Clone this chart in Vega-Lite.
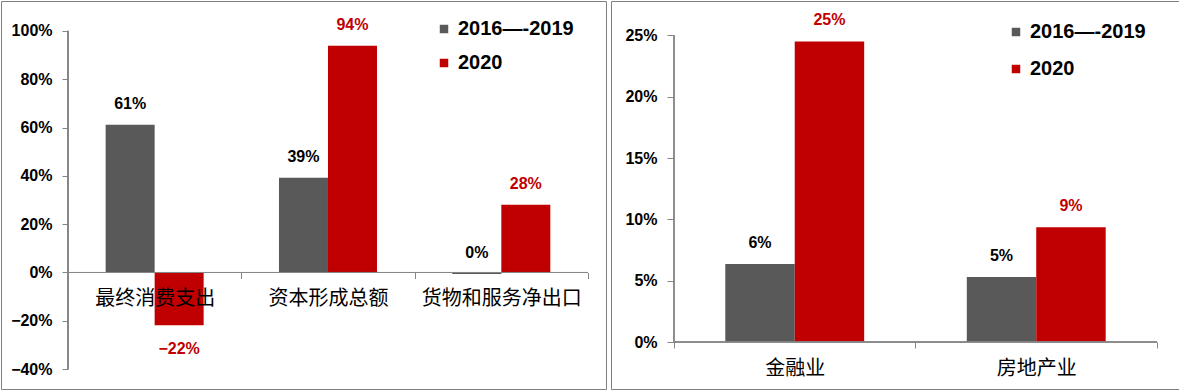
{
  "$schema": "https://vega.github.io/schema/vega-lite/v6.json",
  "padding": 0,
  "background": "white",
  "spacing": 3,
  "config": {
    "view": {"stroke": "#7f7f7f", "strokeWidth": 1},
    "axis": {"labelFont": "Liberation Sans", "labelFontWeight": "bold", "labelFontSize": 16, "labelColor": "#000000", "domainColor": "#868686", "tickColor": "#868686", "grid": false},
    "legend": {"labelFont": "Liberation Sans", "labelFontWeight": "bold", "labelFontSize": 20, "labelColor": "#000000", "symbolType": "square", "symbolSize": 72, "symbolStrokeWidth": 0, "labelOffset": 4, "padding": 0},
    "text": {"font": "Liberation Sans", "fontWeight": "bold", "fontSize": 16}
  },
  "datasets": {
    "left": [
      {"cat": "最终消费支出", "series": "2016—-2019", "value": 61.1, "label": "61%"},
      {"cat": "最终消费支出", "series": "2020", "value": -21.8, "label": "−22%"},
      {"cat": "资本形成总额", "series": "2016—-2019", "value": 39.2, "label": "39%"},
      {"cat": "资本形成总额", "series": "2020", "value": 93.8, "label": "94%"},
      {"cat": "货物和服务净出口", "series": "2016—-2019", "value": -0.6, "label": "0%"},
      {"cat": "货物和服务净出口", "series": "2020", "value": 28.0, "label": "28%"}
    ],
    "right": [
      {"cat": "金融业", "series": "2016—-2019", "value": 6.35, "label": "6%"},
      {"cat": "金融业", "series": "2020", "value": 24.5, "label": "25%"},
      {"cat": "房地产业", "series": "2016—-2019", "value": 5.3, "label": "5%"},
      {"cat": "房地产业", "series": "2020", "value": 9.35, "label": "9%"}
    ]
  },
  "resolve": {"scale": {"color": "independent", "xOffset": "independent", "x": "independent", "y": "independent"}, "legend": {"color": "independent"}},
  "hconcat": [
    {
      "width": 605,
      "height": 388,
      "data": {"name": "left"},
      "layer": [
        {
          "mark": {"type": "bar"},
          "encoding": {
            "x": {"field": "cat", "type": "nominal", "title": null,
              "scale": {"domain": ["最终消费支出", "资本形成总额", "货物和服务净出口"], "paddingInner": 0, "paddingOuter": 0.2452, "align": 0.788},
              "axis": {"orient": "bottom", "offset": -116.5, "domain": false, "tickBand": "extent", "tickSize": 6, "labelAngle": 0, "labelFont": "Noto Sans CJK SC", "labelFontWeight": "normal", "labelFontSize": 20, "labelPadding": 10, "zindex": 1}},
            "xOffset": {"field": "series", "type": "nominal", "scale": {"domain": ["2016—-2019", "2020"], "paddingInner": 0, "paddingOuter": 0.7687}},
            "y": {"field": "value", "type": "quantitative", "title": null,
              "scale": {"domain": [-48.22, 112.37], "nice": false, "zero": false},
              "axis": {"values": [-40, -20, 0, 20, 40, 60, 80, 100], "offset": -67, "domain": false, "tickSize": 6, "labelPadding": 10, "labelExpr": "(datum.value < 0 ? '−' : '') + abs(datum.value) + '%'"}},
            "color": {"field": "series", "type": "nominal",
              "scale": {"domain": ["2016—-2019", "2020"], "range": ["#595959", "#C00000"]},
              "legend": {"orient": "none", "legendX": 433, "legendY": 18, "title": null, "rowPadding": 14}}
          }
        },
        {
          "transform": [{"filter": "datum.value > -1"}],
          "mark": {"type": "text", "baseline": "middle", "dy": -21},
          "encoding": {
            "x": {"field": "cat", "type": "nominal"},
            "xOffset": {"field": "series", "type": "nominal"},
            "y": {"field": "value", "type": "quantitative"},
            "text": {"field": "label"},
            "color": {"condition": {"test": "datum.series === '2020'", "value": "#C00000"}, "value": "#000000"}
          }
        },
        {
          "transform": [{"filter": "datum.value <= -1"}],
          "mark": {"type": "text", "baseline": "middle", "dy": 24},
          "encoding": {
            "x": {"field": "cat", "type": "nominal"},
            "xOffset": {"field": "series", "type": "nominal"},
            "y": {"field": "value", "type": "quantitative"},
            "text": {"field": "label"},
            "color": {"condition": {"test": "datum.series === '2020'", "value": "#C00000"}, "value": "#000000"}
          }
        },
        {
          "mark": {"type": "rule", "color": "#868686"},
          "encoding": {
            "x": {"datum": "最终消费支出", "type": "nominal", "bandPosition": 0},
            "y": {"datum": -40, "type": "quantitative"},
            "y2": {"datum": 100}
          }
        },
        {
          "mark": {"type": "rule", "color": "#868686"},
          "encoding": {
            "x": {"datum": "最终消费支出", "type": "nominal", "bandPosition": 0},
            "x2": {"datum": "货物和服务净出口", "bandPosition": 1},
            "y": {"datum": 0, "type": "quantitative"}
          }
        }
      ]
    },
    {
      "width": 570,
      "height": 388,
      "data": {"name": "right"},
      "layer": [
        {
          "mark": {"type": "bar"},
          "encoding": {
            "x": {"field": "cat", "type": "nominal", "title": null,
              "scale": {"domain": ["金融业", "房地产业"], "paddingInner": 0, "paddingOuter": 0.1801, "align": 0.724},
              "axis": {"orient": "bottom", "offset": -47, "domain": false, "tickBand": "extent", "tickSize": 6, "labelAngle": 0, "labelFont": "Noto Sans CJK SC", "labelFontWeight": "normal", "labelFontSize": 20, "labelPadding": 10, "zindex": 1}},
            "xOffset": {"field": "series", "type": "nominal", "scale": {"domain": ["2016—-2019", "2020"], "paddingInner": 0, "paddingOuter": 0.7388}},
            "y": {"field": "value", "type": "quantitative", "title": null,
              "scale": {"domain": [-3.83, 27.8], "nice": false, "zero": false},
              "axis": {"values": [0, 5, 10, 15, 20, 25], "offset": -63, "domain": false, "tickSize": 7, "labelPadding": 10, "labelExpr": "datum.value + '%'"}},
            "color": {"field": "series", "type": "nominal",
              "scale": {"domain": ["2016—-2019", "2020"], "range": ["#595959", "#C00000"]},
              "legend": {"orient": "none", "legendX": 395, "legendY": 21, "title": null, "rowPadding": 17}}
          }
        },
        {
          "mark": {"type": "text", "baseline": "middle", "dy": -21},
          "encoding": {
            "x": {"field": "cat", "type": "nominal"},
            "xOffset": {"field": "series", "type": "nominal"},
            "y": {"field": "value", "type": "quantitative"},
            "text": {"field": "label"},
            "color": {"condition": {"test": "datum.series === '2020'", "value": "#C00000"}, "value": "#000000"}
          }
        },
        {
          "mark": {"type": "rule", "color": "#868686"},
          "encoding": {
            "x": {"datum": "金融业", "type": "nominal", "bandPosition": 0},
            "y": {"datum": 0, "type": "quantitative"},
            "y2": {"datum": 25}
          }
        },
        {
          "mark": {"type": "rule", "color": "#868686"},
          "encoding": {
            "x": {"datum": "金融业", "type": "nominal", "bandPosition": 0},
            "x2": {"datum": "房地产业", "bandPosition": 1},
            "y": {"datum": 0, "type": "quantitative"}
          }
        }
      ]
    }
  ]
}
